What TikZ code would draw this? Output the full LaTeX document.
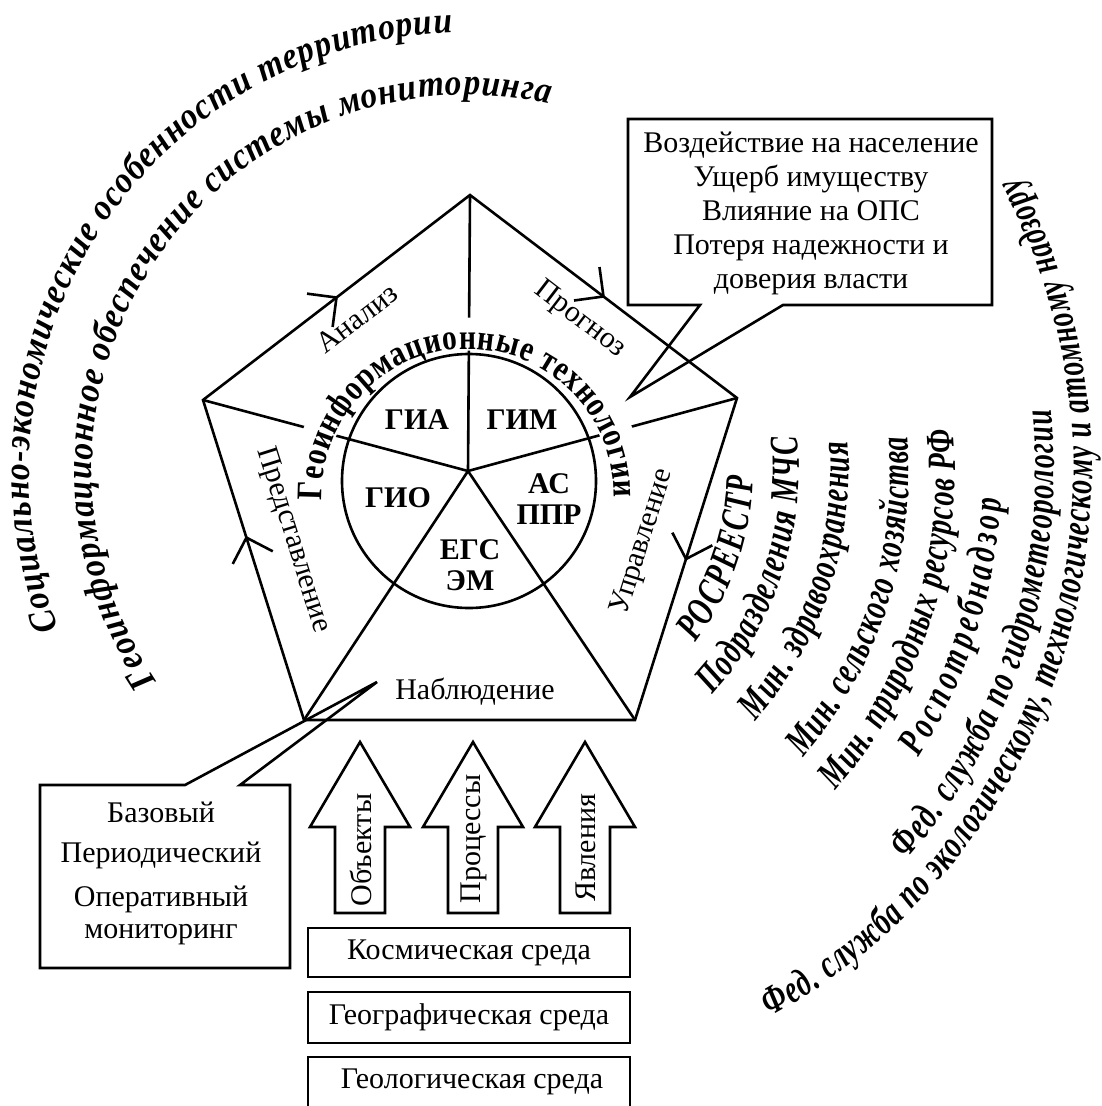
\documentclass[tikz,border=0pt]{standalone}
\usepackage{fontspec}
\setmainfont{Liberation Serif}
\newfontfamily\condserif{Liberation Serif}[FakeStretch=0.7]
\newfontfamily\arcserif{Liberation Serif}[FakeStretch=0.9]
\newfontfamily\tallserif{Liberation Serif}[FakeStretch=0.82]
\newcommand\orgfont{\condserif\bfseries\itshape\fontsize{40}{40}\selectfont}
\newcommand\arcfont{\arcserif\bfseries\itshape\fontsize{37}{37}\selectfont}
\newcommand\techfont{\tallserif\bfseries\fontsize{36}{36}\selectfont}
\usetikzlibrary{decorations.text, decorations.markings}

\tikzset{
  flow/.style={postaction={decorate, decoration={markings,
      mark=at position #1 with {\draw (-21,21) -- (0,0) -- (-21,-21);}}}},
  arctext/.style={decorate, decoration={text along path,
      text align={fit to path}, text={#1}}},
  cell/.style={font=\bfseries\fontsize{30}{31}\selectfont, align=center},
  envbox/.style={draw, minimum width=322pt, minimum height=49pt},
}

\begin{document}
\begin{tikzpicture}[x=1pt, y=1pt, line width=2.6pt, font=\fontsize{30}{34}\selectfont]
  \useasboundingbox (0,-1106) rectangle (1102,0);
  % 五边形顶点，中心，圆心
  \coordinate (T) at (470,-195);
  \coordinate (L) at (203,-400);
  \coordinate (R) at (737,-398);
  \coordinate (BL) at (304,-720);
  \coordinate (BR) at (635,-720);
  \coordinate (hub) at (468,-471);
  \coordinate (O) at (469,-481);
  \coordinate (Ot) at (468,-495);  % 弧形标题的圆心

  \draw (T) -- (R) -- (BR) -- (BL) -- (L) -- cycle;
  \foreach \v in {T,L,R,BL,BR}
    \draw (hub) -- (\v);
  \draw (O) circle[radius=127];
  % 边上的箭头
  \path[flow=0.5] (L) -- (T);
  \path[flow=0.5] (T) -- (R);
  \path[flow=0.5] (R) -- (BR);
  \path[flow=0.57] (BL) -- (L);

  % 标题底色 + 弧形标题
  \draw[white, line width=33pt] ([shift={(183:161)}]Ot) arc[start angle=183, end angle=-1, radius=161];
  \path[arctext={|\techfont|Геоинформационные технологии}]
    ([shift={(182:146)}]Ot) arc[start angle=182, end angle=-1, radius=146];

  \node[rotate=37.5] (analiz) at (357,-318) {Анализ};
  \node[rotate=-37.5] (prognoz) at (580,-320) {Прогноз};
  \node[rotate=-72.5] (predst) at (293,-540) {Представление};
  \node[rotate=72.5] (uprav) at (643,-542) {Управление};
  \node (nabl) at (475,-692) {Наблюдение};

  \node[cell] (gia) at (417,-420) {ГИА};
  \node[cell] (gim) at (522,-420) {ГИМ};
  \node[cell] (gio) at (398,-498) {ГИО};
  \node[cell] (asppr) at (549,-499) {АС\\ППР};
  \node[cell] (egs) at (470,-565) {ЕГС\\ЭМ};

  % 右上说明框
  \coordinate (c1) at (628,-119);
  \coordinate (c2) at (992,-119);
  \coordinate (c3) at (992,-305);
  \coordinate (c4) at (783,-305);
  \coordinate (ctip) at (630,-397);
  \coordinate (c5) at (700,-305);
  \coordinate (c6) at (628,-305);
  \draw (c1) -- (c2) -- (c3) -- (c4) -- (ctip) -- (c5) -- (c6) -- cycle;
  \node[align=center] (impact) at (811,-213) {Воздействие на население\\Ущерб имуществу\\Влияние на ОПС\\Потеря надежности и\\доверия власти};

  % 左下说明框
  \coordinate (m1) at (40,-785);
  \coordinate (m2) at (185,-785);
  \coordinate (mtip) at (377,-682);
  \coordinate (m3) at (240,-785);
  \coordinate (m4) at (290,-785);
  \coordinate (m5) at (290,-968);
  \coordinate (m6) at (40,-968);
  \draw (m1) -- (m2) -- (mtip) -- (m3) -- (m4) -- (m5) -- (m6) -- cycle;
  \node (base) at (161,-812) {Базовый};
  \node (period) at (161,-855) {Периодический};
  \node (oper) at (161,-899) {Оперативный};
  \node (monit) at (161,-935) {мониторинг};

  % 三个空心箭头
  \foreach \cx/\ty/\lbl/\nm in {360/850/Объекты/obj, 473/839/Процессы/proc, 585/848/Явления/yav} {
    \draw (\cx-25,-913) -- (\cx-25,-827) -- (\cx-50,-827) -- (\cx,-742)
      -- (\cx+50,-827) -- (\cx+25,-827) -- (\cx+25,-913) -- cycle;
    \node[rotate=90] (\nm) at (\cx+1,-\ty) {\lbl};
  }

  % 三种环境
  \node[envbox] (kosm) at (469,-952.5) {Космическая среда};
  \node[envbox, minimum height=51pt] (geog) at (469,-1017.5) {Географическая среда};
  \draw (308,-1120) -- (308,-1057) -- (630,-1057) -- (630,-1120);
  \node (geol) at (472,-1082) {Геологическая среда};

  % 左侧弧形文字
  \path[arctext={|\arcfont|Социально-экономические особенности территории}]
    ([shift={(201:439)}]hub) arc[start angle=201, end angle=92, radius=439];
  \path[arctext={|\arcfont|Геоинформационное обеспечение системы мониторинга}]
    ([shift={(214:376)}]hub) arc[start angle=214, end angle=77.5, radius=376];

  % 右侧弧形文字
  \path[arctext={|\orgfont|РОСРЕЕСТР}]
    ([shift={(-37:285)}]hub) arc[start angle=-37, end angle=-1, radius=285];
  \path[arctext={|\orgfont|Подразделения МЧС}]
    ([shift={(-42.5:331)}]hub) arc[start angle=-42.5, end angle=6, radius=331];
  \path[arctext={|\orgfont|Мин. здравоохранения}]
    ([shift={(-41:381)}]hub) arc[start angle=-41, end angle=4.5, radius=381];
  \path[arctext={|\orgfont|Мин. сельского хозяйства}]
    ([shift={(-40.5:441)}]hub) arc[start angle=-40.5, end angle=4.5, radius=441];
  \path[arctext={|\orgfont|Мин. природных ресурсов РФ}]
    ([shift={(-41:487)}]hub) arc[start angle=-41, end angle=5, radius=487];
  \path[arctext={|\orgfont|Роспотребнадзор}]
    ([shift={(-32.5:534)}]hub) arc[start angle=-32.5, end angle=-3, radius=534];
  \path[arctext={|\orgfont|Фед. служба по гидрометеорологии}]
    ([shift={(-41.5:586)}]hub) arc[start angle=-41.5, end angle=6, radius=586];
  \path[arctext={|\orgfont|Фед. служба по экологическому, технологическому и атомному надзору}]
    ([shift={(-61:624)}]hub) arc[start angle=-61, end angle=28, radius=624];
\end{tikzpicture}
\end{document}
